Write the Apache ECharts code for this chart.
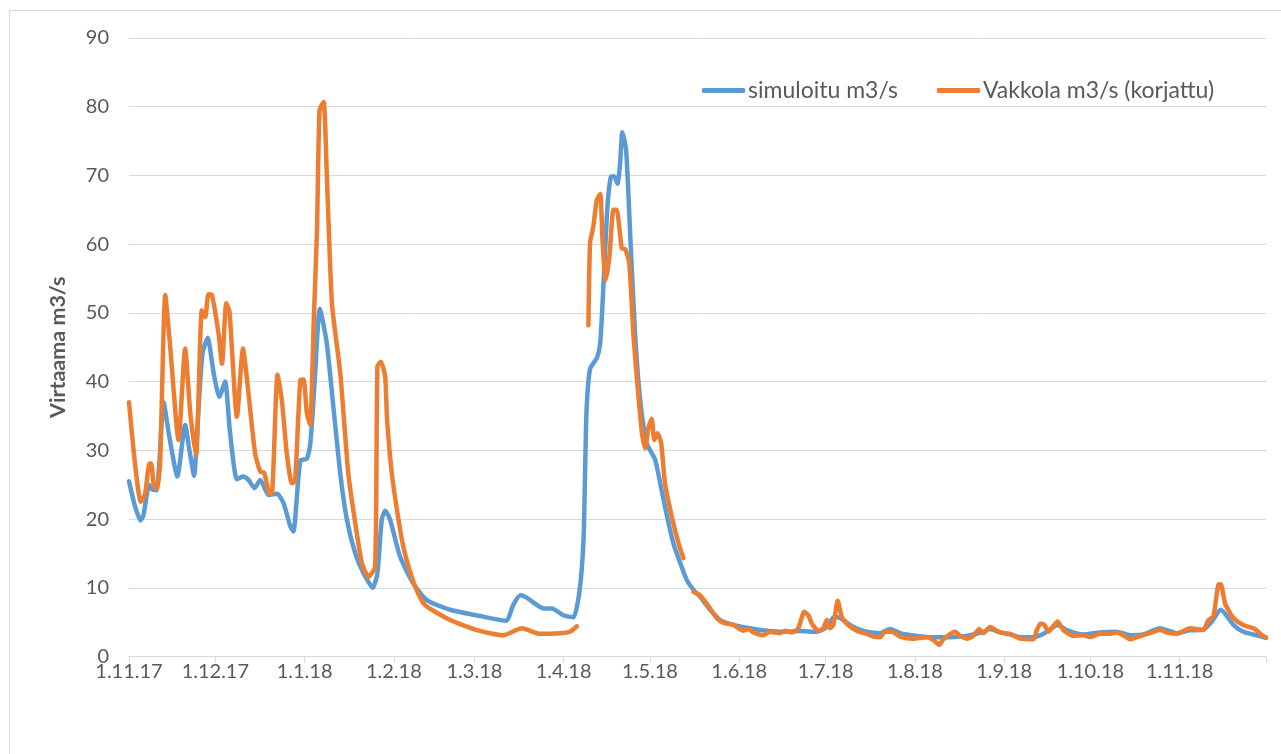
<!DOCTYPE html>
<html>
<head>
<meta charset="utf-8">
<script src="https://cdn.jsdelivr.net/npm/echarts@6/dist/echarts.min.js"></script>
<style>
  html, body { margin: 0; padding: 0; background: #fff; }
  #chart { width: 1281px; height: 754px; }
</style>
</head>
<body>
<div id="chart"></div>
<script>
// x values are days since 1.11.17
const monthDays = [0, 30, 61, 92, 120, 151, 181, 212, 242, 273, 304, 334, 365, 395]
const monthLabels = ['1.11.17', '1.12.17', '1.1.18', '1.2.18', '1.3.18', '1.4.18', '1.5.18',
  '1.6.18', '1.7.18', '1.8.18', '1.9.18', '1.10.18', '1.11.18']

// simuloitu m3/s
const simDays = [0, 2, 4, 5, 7, 8, 9.5, 10.5, 12, 14, 16.8, 19.5, 21, 22.6, 24, 25.5, 27.3, 29.5,
  31.4, 33.4, 35, 37.5, 39.6, 41.5, 43.6, 45.6, 48.5, 51.4, 53.7, 56, 57.1, 59.5, 61.8, 63, 64.5,
  66.3, 68.7, 71, 73.4, 75.7, 78.6, 81.5, 84.7, 86.3, 87.8, 89, 90.7, 94.2, 98.8, 103.5, 111.6,
  123, 131, 133.5, 135.9, 138, 144, 146.9, 150.9, 154.4, 156.5, 157.9, 158.5, 159, 160.2, 162.5,
  163.7, 164.8, 166.2, 167.4, 168.5, 169.7, 170.6, 171.4, 172.7, 174.1, 175.8, 177.6, 179.9, 182.8,
  185.7, 189.1, 193.8, 196.1, 198.4, 201.9, 205.4, 210, 215.8, 221.6, 227.3, 233, 238.9, 242.4,
  245, 247, 251.7, 256.3, 261, 264.4, 267.9, 273.7, 279.4, 285.2, 291, 296.8, 299.1, 302.6, 306.1,
  309.6, 314.2, 318, 322.6, 326, 331.5, 337.3, 343.1, 347.8, 352.4, 358.2, 364, 368.6, 373.2, 376,
  379.3, 383.7, 387.1, 390.6, 395]
const simValues = [25.5, 22, 19.8, 20.5, 25, 24.3, 24.2, 28, 37, 32, 26.2, 33.7, 30, 26.3, 35, 44,
  46.4, 41, 37.8, 40, 33, 25.8, 26.2, 25.7, 24.5, 25.7, 23.5, 23.7, 22.3, 19, 18.2, 28.5, 28.8, 31,
  40, 50.6, 45.6, 36.3, 26.6, 19.9, 15, 12.1, 10, 12.1, 19.9, 21.2, 19.9, 14.5, 10.6, 8.2, 6.8, 5.8,
  5.2, 7.5, 8.9, 8.6, 7, 7, 6, 5.7, 9.5, 16.9, 28, 36.3, 41.9, 43.4, 45.6, 53.8, 65.4, 69.8, 69.9,
  68.8, 71.7, 76.3, 73.7, 61.6, 47, 37.3, 31, 28.6, 22.8, 16.5, 11.1, 9.7, 8.7, 6.8, 5.3, 4.6, 4.1,
  3.75, 3.6, 3.7, 3.6, 4.3, 5.8, 5.6, 4.3, 3.6, 3.4, 4, 3.4, 3, 2.8, 2.8, 3, 3.6, 4, 3.5, 3.2, 2.8,
  2.8, 3.4, 4.6, 3.8, 3.2, 3.5, 3.6, 3.1, 3.2, 4.1, 3.4, 3.8, 3.9, 5, 6.8, 4.6, 3.6, 3.2, 2.7]

// Vakkola m3/s (korjattu), null = no measurement
const vakDays = [0, 2.2, 4.1, 5.6, 7.1, 7.7, 8.8, 9.7, 10.8, 12.6, 14.3, 17.2, 19.5, 21.3, 23.3,
  25.3, 26.5, 27.6, 28.8, 31.1, 32.3, 33.8, 34.9, 37.5, 39.6, 41.5, 43.8, 45.6, 47, 48.8, 49.6,
  51.6, 53.1, 54.8, 56.6, 57.7, 59.5, 60.6, 61.8, 62.9, 64.2, 65.3, 66.2, 67.6, 68.7, 70.5, 73.4,
  76.2, 78.6, 80.9, 83.2, 85.5, 86.3, 87.5, 89, 89.6, 90.7, 91.9, 94.8, 96.5, 99.4, 102.8, 111.6,
  120.8, 130, 136.5, 142.8, 149.8, 153.2, 155.6, 157, 159.6, 160.2, 161.3, 162.5, 163.7, 164.5,
  165.6, 166.9, 168.3, 169.4, 171.2, 172.4, 173.8, 175.2, 176.6, 178.2, 179.3, 180.5, 181.6, 182.5,
  183.6, 184.9, 186.2, 188.6, 190.9, 192.6, 194.5, 196.1, 198.4, 200.7, 204.2, 206.5, 210, 213.4,
  215.2, 216.9, 220.4, 222.7, 226.2, 227.9, 230.3, 232.5, 234.6, 236, 237.2, 239.5, 241.2, 242.4,
  243.5, 244.7, 246.2, 247.6, 249.3, 252.8, 256.3, 258.6, 260.9, 262.7, 265, 267.9, 272.5, 277.2,
  279.4, 281.5, 282.9, 287, 288.7, 291, 293.3, 295.4, 296.8, 299.1, 302.6, 306.1, 309.6, 314.2,
  315.4, 316.7, 318, 319.4, 320.5, 322.6, 324.6, 328.1, 331.5, 333.9, 337.3, 340.8, 343.1, 345.4,
  347.8, 350, 352.4, 355.9, 358.2, 360.5, 364, 368.6, 373.2, 375, 376.7, 378.4, 379.3, 380.8,
  383.7, 387.1, 390.6, 392.3, 393.5, 395]
const vakValues = [37, 27.6, 22.5, 23.7, 28.1, 28.1, 24.5, 24.5, 28.1, 52.6, 45.1, 31.5, 44.8,
  35.4, 29.3, 50.4, 49.4, 52.7, 52.6, 47, 42.6, 51.4, 50.2, 34.9, 44.8, 38.3, 29.6, 26.9, 26.7,
  23.7, 23.7, 41, 37.3, 29.6, 25.2, 25.5, 40.2, 40.3, 35.4, 33.7, 49, 62, 79.5, 80.7, 70.3, 51.4,
  41.2, 26.6, 19.4, 13.6, 11.6, 13.1, 42.2, 42.9, 40.7, 34.9, 29.1, 24.7, 17, 14, 10.2, 7.5, 5.3,
  3.85, 3.1, 4.1, 3.3, 3.4, 3.6, 4.4, null, 48.2, 60.3, 62.5, 66.4, 67.3, 60.6, 54.8, 58.2, 65, 65,
  59.4, 59.3, 57.2, 47, 39.7, 32.5, 30.3, 33.4, 34.6, 31.5, 32.5, 31, 25.2, 20.3, 16.5, 14.3, null,
  9.4, 8.9, 7.7, 5.6, 4.9, 4.6, 3.75, 4, 3.5, 3.1, 3.6, 3.4, 3.75, 3.5, 4.1, 6.5, 6, 4.8, 3.75, 4.1,
  5.3, 4.1, 4.6, 8.1, 5.8, 4.8, 3.75, 3.3, 2.9, 2.8, 3.6, 3.6, 2.9, 2.6, 2.8, 2.4, 1.7, 2.5, 3.6, 3,
  2.6, 3, 4, 3.4, 4.3, 3.5, 3.3, 2.6, 2.5, 3.85, 4.8, 4.6, 3.6, 4.1, 5.1, 3.85, 3, 3.1, 2.8, 3.3,
  3.3, 3.5, 3.1, 2.5, 2.8, 3.1, 3.6, 3.85, 3.5, 3.3, 4.1, 3.85, 5.3, 5.8, 10.4, 10.5, 7.7, 5.6, 4.6,
  4.1, 3.6, 3.1, 2.8]

const textColor = '#595959'
const gridColor = '#D9D9D9'
const fontFamily = 'Lato, "Noto Sans", sans-serif'

const pairs = (days, values) => days.map((d, i) => [d, values[i] === null ? '-' : values[i]])

const chart = echarts.init(document.getElementById('chart'), null, { renderer: 'canvas' })

chart.setOption({
  backgroundColor: '#fff',
  animation: false,
  textStyle: { fontFamily },
  graphic: [{
    type: 'rect',
    shape: { x: 9.5, y: 10.5, width: 1280, height: 750 },
    style: { fill: 'none', stroke: gridColor, lineWidth: 1 },
    silent: true
  }],
  legend: {
    left: 697,
    top: 74,
    icon: 'roundRect',
    itemWidth: 43,
    itemHeight: 5,
    itemGap: 39,
    textStyle: { fontSize: 23, color: textColor, fontFamily, padding: [0, 0, 0, -2] },
    data: ['simuloitu m3/s', 'Vakkola m3/s (korjattu)']
  },
  grid: { left: 129, right: 15, top: 38, bottom: 97.5 },
  xAxis: {
    type: 'value',
    min: 0,
    max: 395,
    axisLine: { show: true, lineStyle: { color: gridColor, width: 1 } },
    axisTick: { show: true, customValues: monthDays, length: 6, lineStyle: { color: gridColor } },
    axisLabel: {
      customValues: monthDays.slice(0, monthLabels.length),
      formatter: (v) => monthLabels[monthDays.indexOf(v)] || '',
      color: textColor,
      fontSize: 20,
      margin: 5,
      fontFamily
    },
    splitLine: { show: false }
  },
  yAxis: {
    type: 'value',
    min: 0,
    max: 90,
    interval: 10,
    name: 'Virtaama m3/s',
    nameLocation: 'middle',
    nameGap: 60,
    nameTextStyle: { fontSize: 21.5, fontWeight: 'bold', color: textColor, fontFamily },
    axisLine: { show: false },
    axisTick: { show: false },
    axisLabel: { color: textColor, fontSize: 20, margin: 20, fontFamily },
    splitLine: { lineStyle: { color: gridColor, width: 1 } }
  },
  series: [
    {
      name: 'simuloitu m3/s',
      type: 'line',
      data: pairs(simDays, simValues),
      symbol: 'none',
      smooth: 0.2,
      lineStyle: { color: '#5B9BD5', width: 4.5, cap: 'round', join: 'round' },
      itemStyle: { color: '#5B9BD5' },
      z: 2
    },
    {
      name: 'Vakkola m3/s (korjattu)',
      type: 'line',
      data: pairs(vakDays, vakValues),
      symbol: 'none',
      connectNulls: false,
      smooth: 0.2,
      lineStyle: { color: '#ED7D31', width: 4.5, cap: 'round', join: 'round' },
      itemStyle: { color: '#ED7D31' },
      z: 3
    }
  ]
})
</script>
</body>
</html>
